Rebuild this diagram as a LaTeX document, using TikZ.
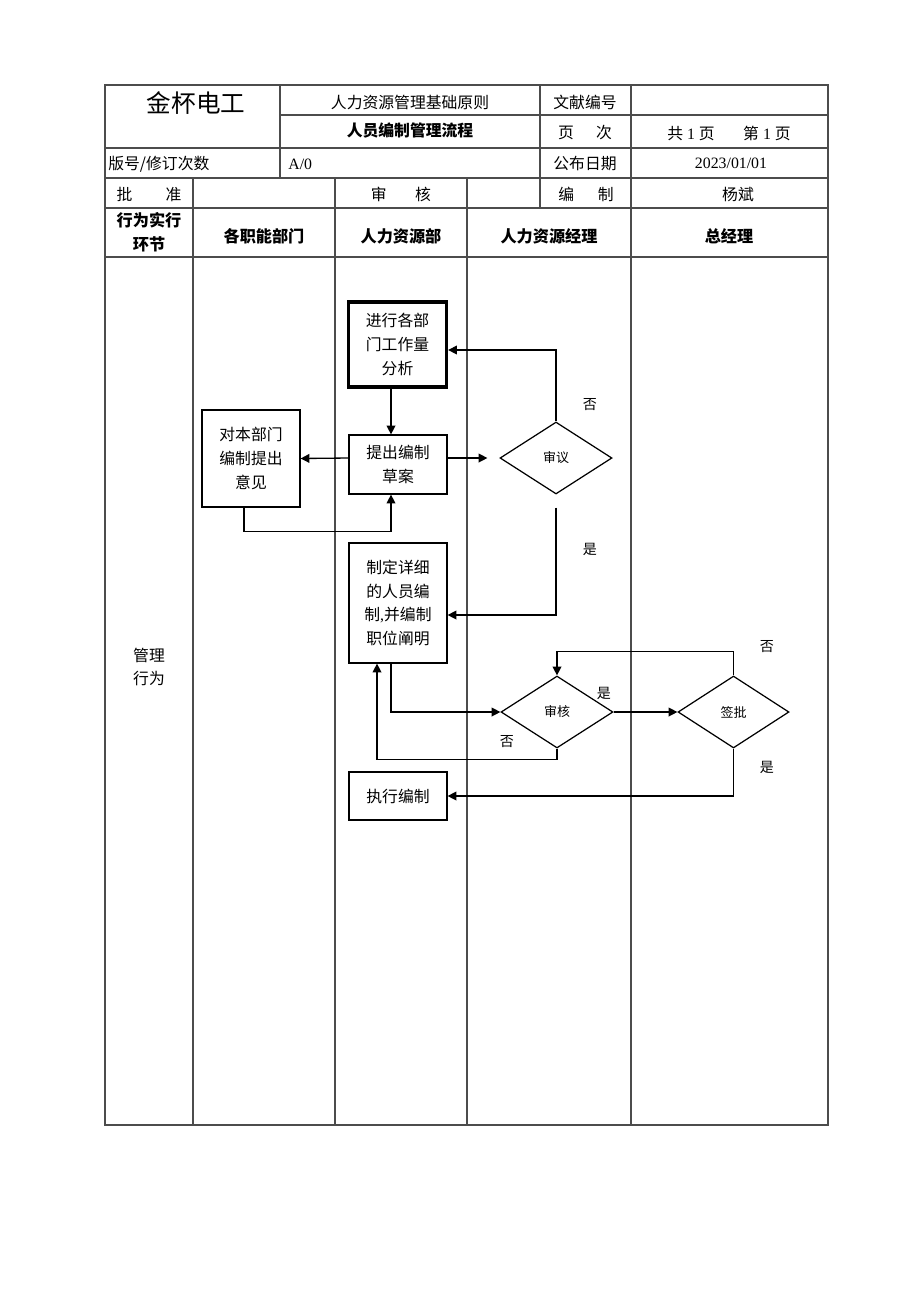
\documentclass[tikz,border=0pt]{standalone}
\usepackage{fontspec}
\setmainfont{Noto Sans CJK SC}
\newfontfamily\latin{Liberation Serif}
\usetikzlibrary{arrows.meta,calc,shapes.geometric}

\begin{document}
\begin{tikzpicture}[x=0.02cm,y=-0.02cm,>={Triangle[length=5pt,width=5pt]},
  grid/.style={line width=0.6pt,black!70},
  flow/.style={line width=0.75pt,->},
  cell/.style={font=\fontsize{9}{11}\selectfont,inner sep=0pt},
  head/.style={font=\bfseries\fontsize{9.2}{13.6}\selectfont,align=center,inner sep=0pt},
  box/.style={draw,line width=0.7pt,minimum width=1.96cm,align=center,inner sep=0pt,font=\fontsize{9}{13.6}\selectfont},
  choice/.style={draw,diamond,line width=0.7pt,minimum width=2.24cm,minimum height=1.44cm,inner sep=0pt,font=\fontsize{7.4}{9}\selectfont},
  yesno/.style={font=\fontsize{8}{10}\selectfont,inner sep=0pt}]
\useasboundingbox (0,0) rectangle (920,1302);
% the form
\draw[grid] (105,85) rectangle (828,1125);
\draw[grid] (280,115) -- (828,115);
\foreach \y in {148,178,208,257} {\draw[grid] (105,\y) -- (828,\y);}
\draw[grid] (280,85) -- (280,178);
\draw[grid] (540,85) -- (540,208);
\draw[grid] (631,85) -- (631,1125);
\foreach \x in {193,335,467} {\draw[grid] (\x,178) -- (\x,1125);}
% head of the form
\node[cell,font=\fontsize{14}{16}\selectfont] (hdcompany) at (196,103) {金杯电工};
\node[cell] (hdrule) at (410,102) {人力资源管理基础原则};
\node[cell,font=\bfseries\fontsize{9}{11}\selectfont] (hdtitle) at (410,131) {人员编制管理流程};
\node[cell] (hddocno) at (585,102) {文献编号};
\node[cell] (hdpage) at (585,133) {页\hspace{1.4em}次};
\node[cell] (hdpages) at (729,133) {共{\latin\ 1 }页\hspace{1.8em}第{\latin\ 1 }页};
\node[cell,anchor=west] (hdver) at (108,164) {版号/修订次数};
\node[cell,anchor=west] (hdverv) at (288,164) {{\latin A/0}};
\node[cell] (hddate) at (585,164) {公布日期};
\node[cell] (hddatev) at (731,163) {{\latin 2023/01/01}};
\node[cell] (hdappr) at (149,194) {批\hspace{2.1em}准};
\node[cell] (hdcheck) at (401,194) {审\hspace{1.8em}核};
\node[cell] (hdmade) at (586,194) {编\hspace{1.5em}制};
\node[cell] (hdmaker) at (738,194) {杨斌};
% lanes
\node[head] (coltask) at (149,232) {行为实行\\环节};
\node[head] (coldept) at (264,236) {各职能部门};
\node[head] (colhr) at (401,236) {人力资源部};
\node[head] (colhrmgr) at (549,236) {人力资源经理};
\node[head] (colgm) at (729,236) {总经理};
\node[cell,font=\fontsize{9}{13.6}\selectfont,align=center] (rowmgmt) at (149,667) {管理\\行为};
% steps
\node[box,line width=1.9pt,minimum height=1.7cm] (anal) at (397.5,344.5) {进行各部\\门工作量\\分析};
\node[box,minimum height=1.18cm] (draft) at (398,464.5) {提出编制\\草案};
\node[box,minimum height=1.94cm] (opin) at (251,458.5) {对本部门\\编制提出\\意见};
\node[choice] (rev1) at (556,458) {审议};
\node[box,minimum height=2.4cm] (plan) at (398,603) {制定详细\\的人员编\\制{\latin ,}并编制\\职位阐明};
\node[choice] (rev2) at (557,712) {审核};
\node[choice,minimum width=2.22cm] (sign) at (733.5,712) {签批};
\node[box,minimum height=0.96cm] (exec) at (398,796) {执行编制};
% connectors
\coordinate (rev1in) at ($(rev1.west)+(-12,0)$);
\coordinate (rev1out) at ($(rev1.south)+(0,13)$);
\draw[flow] ($(anal.south)+(-6.5,0)$) -- ($(draft.north)+(-7,0)$);
\draw[flow] ($(draft.west)+(0,-6.5)$) -- (opin.east);
\draw[flow] ($(opin.south)+(-7,0)$) |- ($(draft.south)+(-7,37)$) -- ($(draft.south)+(-7,0)$);
\draw[flow] ($(draft.east)+(0,-6.5)$) -- (rev1in);
\draw[flow] (rev1.north) |- ($(anal.east)+(0,5.5)$);
\draw[flow] (rev1out) |- ($(plan.east)+(0,12)$);
\draw[flow] ($(plan.south)+(-7,0)$) |- (rev2.west);
\draw[flow] (rev2.south) -- ++(0,11) -| ($(plan.south)+(-21,0)$);
\draw[flow] (rev2.east) -- (sign.west);
\draw[flow] (sign.north) -- ++(0,-24) -| (rev2.north);
\draw[flow] (sign.south) |- (exec.east);
% yes / no
\node[yesno] (no1) at (590,405) {否};
\node[yesno] (yes1) at (590,549) {是};
\node[yesno] (yes2) at (604,693) {是};
\node[yesno] (no2) at (507,742) {否};
\node[yesno] (no3) at (767,647) {否};
\node[yesno] (yes3) at (767,767) {是};
\end{tikzpicture}
\end{document}
